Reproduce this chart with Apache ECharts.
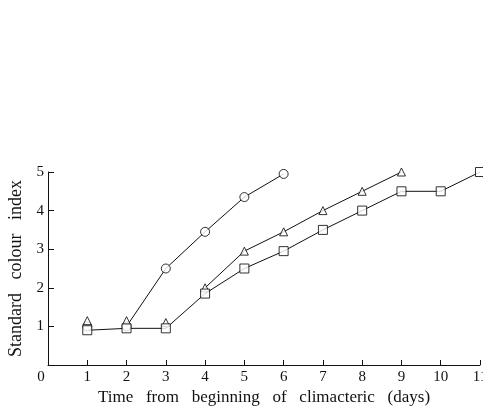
<!DOCTYPE html>
<html>
<head>
<meta charset="utf-8">
<script src="https://cdn.jsdelivr.net/npm/echarts@6/dist/echarts.min.js"></script>
<style>
  html, body { margin: 0; padding: 0; background: #fff; }
  #main { width: 483px; height: 407px; }
</style>
</head>
<body>
<div id="main"></div>
<script>
// days after start of climacteric
const days = [1, 2, 3, 4, 5, 6, 7, 8, 9, 10, 11];
const xTicks = [0, 1, 2, 3, 4, 5, 6, 7, 8, 9, 10, 11];
const yTicks = [1, 2, 3, 4, 5];

// colour index, one list per marker
const circleVals = [1.0, 1.0, 2.5, 3.45, 4.35, 4.95];
const triangleVals = [1.15, 1.15, 1.1, 2.0, 2.95, 3.45, 4.0, 4.5, 5.0];
const squareVals = [0.9, 0.95, 0.95, 1.85, 2.5, 2.95, 3.5, 4.0, 4.5, 4.5, 5.0];

// the joining line only starts at this point (index) for each set
const circleLineFrom = 1;
const triangleLineFrom = 3;
const squareLineFrom = 0;

const font = "'Liberation Serif', 'DejaVu Serif', serif";

const pts = (vals) => vals.map((v, i) => [days[i], v]);
const linePts = (vals, from) => vals.map((v, i) => (i < from ? [days[i], '-'] : [days[i], v]));

const markerStyle = { color: '#fff', borderColor: '#000', borderWidth: 1 };

const myChart = echarts.init(document.getElementById('main'));

const option = {
  animation: false,
  backgroundColor: '#fff',
  grid: { left: 48, right: 3, top: 172, bottom: 42, outerBoundsMode: 'none', containLabel: false },
  xAxis: {
    type: 'value',
    min: 0,
    max: 11,
    interval: 1,
    name: 'Time   from   beginning   of   climacteric   (days)',
    nameLocation: 'middle',
    nameGap: 24,
    nameTextStyle: { fontFamily: font, fontSize: 17, color: '#111' },
    axisLine: { lineStyle: { color: '#111', width: 1 } },
    axisTick: { inside: true, length: 5, lineStyle: { color: '#111' } },
    axisLabel: {
      fontFamily: font, fontSize: 15, color: '#111', margin: 5,
      // the origin "0" sits a little left of the corner
      formatter: (v) => (v === 0 ? '{z|0}' : xTicks.includes(v) ? String(v) : ''),
      rich: { z: { fontFamily: font, fontSize: 15, color: '#111', padding: [0, 14, 0, 0] } }
    },
    splitLine: { show: false }
  },
  yAxis: {
    type: 'value',
    min: 0,
    max: 5,
    interval: 1,
    name: 'Standard   colour   index',
    nameLocation: 'middle',
    nameGap: 23,
    nameTextStyle: { fontFamily: font, fontSize: 18, color: '#111' },
    axisLine: { show: true, lineStyle: { color: '#111', width: 1 } },
    axisTick: { show: true, inside: true, length: 6, lineStyle: { color: '#111' } },
    axisLabel: {
      fontFamily: font, fontSize: 15, color: '#111', margin: 4,
      formatter: (v) => (yTicks.includes(v) ? String(v) : '')
    },
    splitLine: { show: false }
  },
  series: [
    {
      type: 'line', data: linePts(circleVals, circleLineFrom), showSymbol: false,
      lineStyle: { color: '#111', width: 1 }, z: 1
    },
    {
      type: 'line', data: linePts(triangleVals, triangleLineFrom), showSymbol: false,
      lineStyle: { color: '#111', width: 1 }, z: 1
    },
    {
      type: 'line', data: linePts(squareVals, squareLineFrom), showSymbol: false,
      lineStyle: { color: '#111', width: 1 }, z: 1
    },
    {
      type: 'scatter', data: pts(circleVals), symbol: 'circle', symbolSize: 9,
      itemStyle: markerStyle, z: 2
    },
    {
      type: 'scatter', data: pts(triangleVals), symbol: 'triangle', symbolSize: 8,
      itemStyle: markerStyle, z: 3
    },
    {
      type: 'scatter', data: pts(squareVals), symbol: 'rect', symbolSize: 9,
      itemStyle: markerStyle, z: 4
    }
  ]
};

option && myChart.setOption(option);
</script>
</body>
</html>
